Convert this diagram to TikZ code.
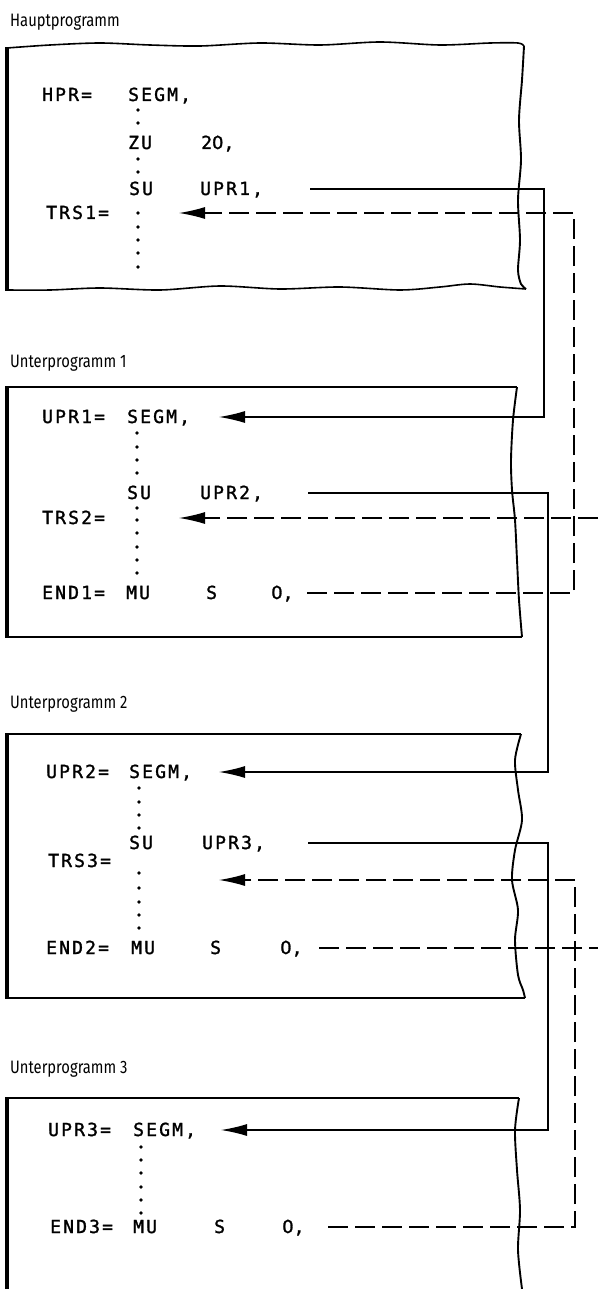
\documentclass[tikz,border=0pt]{standalone}
\usepackage{fontspec}
\setmonofont[LetterSpace=12,FakeBold=1.5]{DejaVu Sans Mono}
\newfontfamily\zerofont[FakeBold=1.5]{DejaVu Sans}
\newfontfamily\titlefont[FakeStretch=0.82]{Fira Sans}
\newcommand{\zr}{{\zerofont 0}}
\usetikzlibrary{arrows.meta}

\begin{document}
\begin{tikzpicture}[x=1pt,y=-1pt,>={Latex[length=26pt,width=12pt]}]
        \tikzset{
          code/.style={
            font=\ttfamily\fontsize{18}{20}\selectfont,
            inner sep=0pt,
            text height=12pt,
            text depth=0pt,
            anchor=base west
          },
          progtitle/.style={
            font=\titlefont\fontsize{18}{20}\selectfont,
            inner sep=0pt,
            anchor=base west
          },
          callline/.style={line width=1.2pt},
          backline/.style={line width=1.2pt,dash pattern=on 20pt off 7pt},
          leftedge/.style={line width=3.4pt},
          boxedge/.style={line width=1.6pt},
          cutedge/.style={line width=1.9pt}
        }
        \fill[white] (0,0) rectangle (598,1289);
        \useasboundingbox (0,0) rectangle (598,1289);
        % bus lines on the right
        \coordinate (busA) at (544,0);
        \coordinate (busB) at (574,0);
        \coordinate (busC) at (548,0);
        \coordinate (busE) at (575,0);
        \coordinate (offpage) at (598,0);

        % Hauptprogramm
        \node[progtitle] (hptitle) at (10,27) {Hauptprogramm};
        \draw[boxedge] plot[smooth] coordinates {(7,48) (50,45) (100,43) (150,45) (200,46)
          (260,43) (320,45) (380,42) (440,45) (490,43) (518,43) (524,46)};
        \draw[cutedge] plot[smooth] coordinates {(524,46) (522,80) (519,120) (521,160)
          (518,200) (520,240) (518,270) (521,284) (526,289)};
        \draw[boxedge] plot[smooth] coordinates {(526,289) (500,287) (470,284) (440,287)
          (400,290) (340,287) (280,289) (220,286) (160,290) (100,288) (50,290) (7,290)};
        \draw[leftedge] (7,47) -- (7,291);
        \node[code] (hpr) at (42,101) {HPR=};
        \node[code] (hprop) at (128,101) {SEGM,};
        \node[code] (zu) at (128,149) {ZU};
        \node[code] (zuarg) at (201,149) {2\zr,};
        \node[code] (su1) at (129,195) {SU};
        \node[code] (su1arg) at (200,195) {UPR1,};
        \node[code] (trs1) at (46,219) {TRS1=};
        \foreach \y in {110,123,159,172,213,227,240,253,267}
          \fill (138,\y) circle (1.9pt);

        % Unterprogramm 1
        \node[progtitle] (up1title) at (10,367) {Unterprogramm 1};
        \draw[boxedge] (7,387) -- (517,387);
        \draw[cutedge] plot[smooth] coordinates {(517,387) (513,420) (511,460) (512,490)
          (515,520) (517,560) (519,600) (522,637)};
        \draw[boxedge] (522,637) -- (7,637);
        \draw[leftedge] (7,386) -- (7,638);
        \node[code] (upr1) at (42,423) {UPR1=};
        \node[code] (upr1op) at (127,423) {SEGM,};
        \node[code] (su2) at (127,499) {SU};
        \node[code] (su2arg) at (200,499) {UPR2,};
        \node[code] (trs2) at (42,524) {TRS2=};
        \node[code] (end1) at (42,599) {END1=};
        \node[code] (end1op) at (126,599) {MU};
        \node[code] (end1s) at (206,599) {S};
        \node[code] (end1arg) at (271,599) {\zr,};
        \foreach \y in {433,447,460,473,508,520,533,547,560,573}
          \fill (137,\y) circle (1.9pt);

        % Unterprogramm 2
        \node[progtitle] (up2title) at (10,708) {Unterprogramm 2};
        \draw[boxedge] (7,734) -- (521,734);
        \draw[cutedge] plot[smooth] coordinates {(521,734) (515,760) (518,790) (522,820)
          (515,850) (512,880) (518,910) (515,940) (518,975) (523,990) (525,998)};
        \draw[boxedge] (525,998) -- (7,998);
        \draw[leftedge] (7,733) -- (7,999);
        \node[code] (upr2) at (46,778) {UPR2=};
        \node[code] (upr2op) at (129,778) {SEGM,};
        \node[code] (su3) at (129,849) {SU};
        \node[code] (su3arg) at (202,849) {UPR3,};
        \node[code] (trs3) at (48,867) {TRS3=};
        \node[code] (end2) at (46,954) {END2=};
        \node[code] (end2op) at (131,954) {MU};
        \node[code] (end2s) at (210,954) {S};
        \node[code] (end2arg) at (280,954) {\zr,};
        \foreach \y in {788,802,815,828,873,888,902,915,928}
          \fill (139,\y) circle (1.9pt);

        % Unterprogramm 3
        \node[progtitle] (up3title) at (10,1073) {Unterprogramm 3};
        \draw[boxedge] (7,1098) -- (519,1098);
        \draw[cutedge] plot[smooth] coordinates {(519,1098) (515,1130) (517,1170)
          (520,1210) (518,1250) (522,1289)};
        \draw[leftedge] (7,1097) -- (7,1289);
        \node[code] (upr3) at (48,1136) {UPR3=};
        \node[code] (upr3op) at (133,1136) {SEGM,};
        \node[code] (end3) at (50,1233) {END3=};
        \node[code] (end3op) at (133,1233) {MU};
        \node[code] (end3s) at (214,1233) {S};
        \node[code] (end3arg) at (282,1233) {\zr,};
        \foreach \y in {1147,1160,1173,1187,1200,1213}
          \fill (141,\y) circle (1.9pt);

        % calls (solid) and returns (dashed)
        \draw[callline,->] ([xshift=110pt]su1arg.west) -| (busA |- upr1op.west) -- ([xshift=92pt]upr1op.west);
        \draw[backline,->] ([xshift=36pt]end1arg.west) -| (busB |- trs1.west) -- ([xshift=133pt]trs1.west);
        \draw[callline,->] ([xshift=108pt]su2arg.west) -| (busC |- upr2op.west) -- ([xshift=90pt]upr2op.west);
        \draw[backline,->] (offpage |- trs2.west) -- ([xshift=137pt]trs2.west);
        \draw[callline,->] ([xshift=106pt]su3arg.west) -| (busC |- upr3op.west) -- ([xshift=88pt]upr3op.west);
        \coordinate (trs3in) at ([xshift=171pt,yshift=-19pt]trs3.west);
        \draw[backline,->] ([xshift=46pt]end3arg.west) -| (busE |- trs3in) -- (trs3in);
        \draw[backline] ([xshift=39pt]end2arg.west) -- (offpage |- end2arg.west);
      \end{tikzpicture}
\end{document}
